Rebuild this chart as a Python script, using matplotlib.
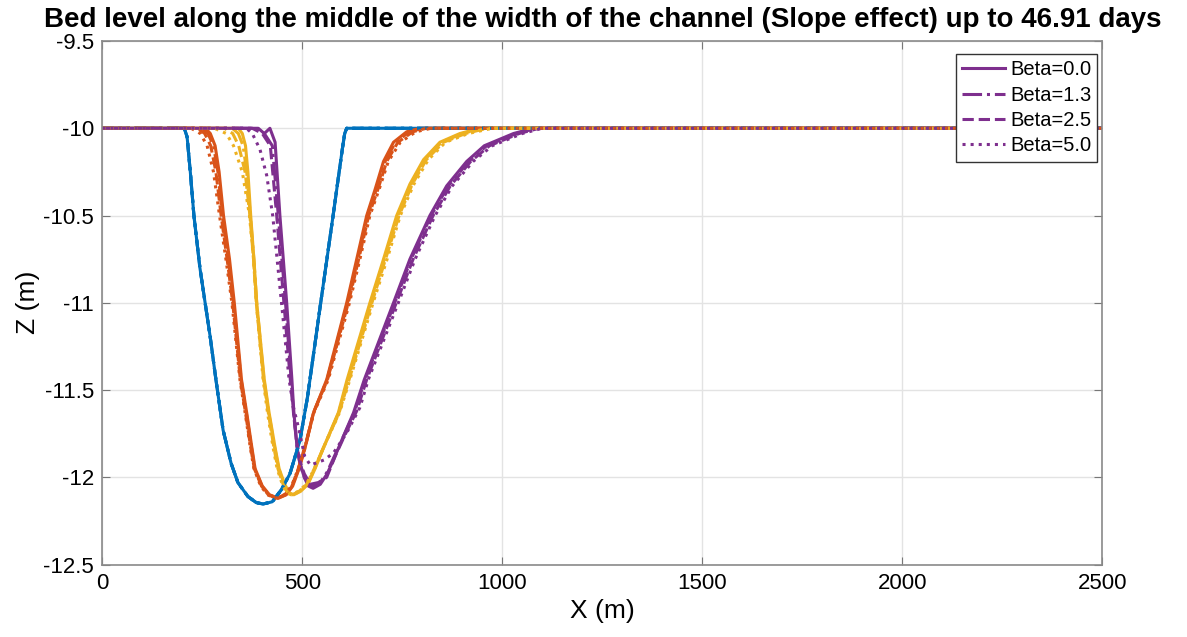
import matplotlib
matplotlib.use("Agg")
import matplotlib.pyplot as plt
from matplotlib.lines import Line2D

plt.rcParams["font.family"] = ["Liberation Sans", "DejaVu Sans"]

# Beta values and line styles used for them
betas = ["0.0", "1.3", "2.5", "5.0"]
styles = ["-", "-.", "--", ":"]

# initial bed (blue) is the same for every beta
blue_x = [0, 205, 212, 220, 229, 244, 257, 270, 284, 302, 322, 339, 364, 385, 402, 425,
          448, 469, 494, 513, 546, 577, 600, 606, 611, 2500]
blue_z = [-10, -10, -10.05, -10.25, -10.5, -10.8, -11.0, -11.2, -11.44, -11.73, -11.92,
          -12.03, -12.11, -12.145, -12.153, -12.14, -12.07, -11.98, -11.79, -11.54, -11.0,
          -10.5, -10.12, -10.03, -10.0, -10.0]

# second snapshot (orange)
orange_z = [-10, -10, -10.03, -10.1, -10.25, -10.5, -10.75, -11.0, -11.44, -11.63, -11.83,
            -11.95, -12.05, -12.1, -12.12, -12.1, -12.05, -11.95, -11.83, -11.63, -11.44,
            -11.0, -10.75, -10.5, -10.35, -10.19, -10.08, -10.02, -10.0, -10.0]
orange_x_b00 = [0, 258, 270, 282, 292, 303, 318, 330, 348, 361, 374, 382, 400, 418, 440,
                460, 476, 492, 507, 528, 561, 611, 636, 661, 682, 703, 728, 761, 794, 2500]
orange_x_b13 = [0, 250, 264, 278, 289, 300, 315, 328, 347, 360, 373, 381, 399, 417, 438,
                458, 475, 491, 507, 528, 562, 613, 639, 663, 685, 707, 733, 768, 802, 2500]
orange_x_b25 = [0, 238, 256, 271, 284, 297, 312, 326, 345, 358, 371, 380, 398, 415, 435,
                456, 474, 490, 506, 528, 563, 615, 641, 666, 689, 711, 739, 776, 810, 2500]
orange_x_b50 = [0, 222, 245, 262, 278, 293, 309, 324, 344, 357, 370, 379, 396, 413, 433,
                455, 473, 490, 506, 529, 565, 618, 644, 669, 692, 715, 745, 784, 822, 2500]

# third snapshot (yellow)
yellow_z = [-10, -10, -10.03, -10.1, -10.25, -10.5, -10.75, -11.0, -11.44, -11.63, -11.83,
            -11.95, -12.04, -12.09, -12.1, -12.08, -12.04, -11.95, -11.83, -11.63, -11.44,
            -11.0, -10.75, -10.5, -10.32, -10.18, -10.08, -10.03, -10.0, -10.0]
yellow_x_b00 = [0, 340, 350, 358, 364, 371, 379, 386, 405, 417, 432, 442, 456, 468, 479,
                496, 514, 532, 553, 590, 612, 669, 703, 736, 769, 803, 844, 894, 944, 2500]
yellow_x_b13 = [0, 325, 340, 352, 361, 370, 379, 386, 404, 416, 431, 441, 455, 466, 477,
                494, 513, 531, 553, 591, 614, 671, 705, 739, 772, 806, 848, 900, 952, 2500]
yellow_x_b25 = [0, 305, 326, 341, 357, 369, 378, 385, 403, 415, 429, 439, 452, 464, 475,
                492, 511, 530, 553, 592, 617, 674, 708, 742, 775, 810, 853, 908, 962, 2500]
yellow_x_b50 = [0, 280, 310, 328, 350, 368, 378, 385, 402, 413, 427, 437, 450, 461, 472,
                490, 510, 530, 553, 593, 619, 677, 712, 745, 779, 815, 858, 915, 975, 2500]

# last snapshot (purple), 46.91 days
purple_x_b00 = [0, 390, 405, 419, 432, 444, 461, 474, 479, 487, 494, 505, 515, 527, 545,
                562, 578, 600, 628, 655, 728, 769, 819, 861, 911, 955, 1028, 1078, 2500]
purple_z_b00 = [-10, -10, -10.03, -10.0, -10.08, -10.5, -11.0, -11.44, -11.63, -11.83,
                -11.92, -12.0, -12.05, -12.063, -12.04, -11.98, -11.9, -11.78, -11.63,
                -11.44, -11.0, -10.75, -10.5, -10.33, -10.19, -10.1, -10.03, -10.0, -10.0]
purple_x_b13 = [0, 385, 405, 425, 440, 458, 472, 478, 487, 494, 505, 515, 527, 545, 562,
                580, 602, 630, 657, 731, 772, 822, 865, 916, 961, 1035, 1085, 2500]
purple_z_b13 = [-10, -10, -10.03, -10.1, -10.5, -11.0, -11.44, -11.63, -11.83, -11.92,
                -12.0, -12.04, -12.05, -12.03, -11.97, -11.88, -11.77, -11.63, -11.44,
                -11.0, -10.75, -10.5, -10.33, -10.19, -10.1, -10.03, -10.0, -10.0]
purple_x_b25 = [0, 375, 400, 420, 432, 436, 454, 470, 478, 488, 496, 505, 520, 540, 561,
                582, 606, 636, 661, 735, 777, 827, 870, 921, 968, 1042, 1092, 2500]
purple_z_b25 = [-10, -10, -10.03, -10.1, -10.4, -10.5, -11.0, -11.44, -11.63, -11.83,
                -11.92, -11.98, -12.04, -12.03, -12.0, -11.88, -11.76, -11.62, -11.44,
                -11.0, -10.75, -10.5, -10.33, -10.19, -10.1, -10.03, -10.0, -10.0]
purple_x_b50 = [0, 360, 375, 394, 411, 426, 448, 467, 478, 492, 506, 520, 532, 555, 578,
                610, 644, 665, 740, 782, 832, 875, 927, 975, 1050, 1100, 2500]
purple_z_b50 = [-10, -10, -10.03, -10.12, -10.27, -10.5, -11.0, -11.44, -11.6, -11.73,
                -11.88, -11.93, -11.92, -11.9, -11.86, -11.75, -11.6, -11.44, -11.0, -10.75,
                -10.5, -10.33, -10.19, -10.1, -10.03, -10.0, -10.0]

colors = ["#0072BD", "#D95319", "#EDB120", "#7E2F8E"]

curves = [
    [(blue_x, blue_z), (orange_x_b00, orange_z), (yellow_x_b00, yellow_z), (purple_x_b00, purple_z_b00)],
    [(blue_x, blue_z), (orange_x_b13, orange_z), (yellow_x_b13, yellow_z), (purple_x_b13, purple_z_b13)],
    [(blue_x, blue_z), (orange_x_b25, orange_z), (yellow_x_b25, yellow_z), (purple_x_b25, purple_z_b25)],
    [(blue_x, blue_z), (orange_x_b50, orange_z), (yellow_x_b50, yellow_z), (purple_x_b50, purple_z_b50)],
]

fig = plt.figure(figsize=(11.87, 6.37), dpi=100)
ax = fig.add_axes([0.0862, 0.1137, 0.8424, 0.8219])

for i, beta in enumerate(betas):
    for (x, z), c in zip(curves[i], colors):
        ax.plot(x, z, color=c, linestyle=styles[i], linewidth=2.2,
                solid_joinstyle="round", dash_joinstyle="round")

handles = [Line2D([], [], color=colors[3], linestyle=s, linewidth=2.2) for s in styles]
leg = ax.legend(handles, ["Beta=" + b for b in betas], loc="upper right",
                fontsize=14.5, handlelength=2.15, handletextpad=0.25, borderpad=0.3,
                labelspacing=0.32, fancybox=False, framealpha=1, borderaxespad=0,
                bbox_to_anchor=(0.995, 0.975))
leg.get_frame().set_edgecolor("#333333")
leg.get_frame().set_linewidth(1.0)

ax.set_xlim(0, 2500)
ax.set_ylim(-12.5, -9.5)
ax.set_xticks([0, 500, 1000, 1500, 2000, 2500])
ax.set_yticks([-12.5, -12, -11.5, -11, -10.5, -10, -9.5])
ax.set_yticklabels(["-12.5", "-12", "-11.5", "-11", "-10.5", "-10", "-9.5"])
ax.grid(True, color="#e3e3e3", linewidth=1)
ax.set_axisbelow(True)
ax.tick_params(direction="in", top=True, right=True, labelsize=16, length=6,
               color="#777777", pad=6)
for s in ax.spines.values():
    s.set_color("#8a8a8a")
    s.set_linewidth(1.2)

ax.set_xlabel("X (m)", fontsize=19)
ax.set_ylabel("Z (m)", fontsize=19, labelpad=2)
ax.set_title("Bed level along the middle of the width of the channel (Slope effect) up to 46.91 days",
             fontsize=20, fontweight="bold", pad=10)

fig.savefig("out.png", dpi=100)
